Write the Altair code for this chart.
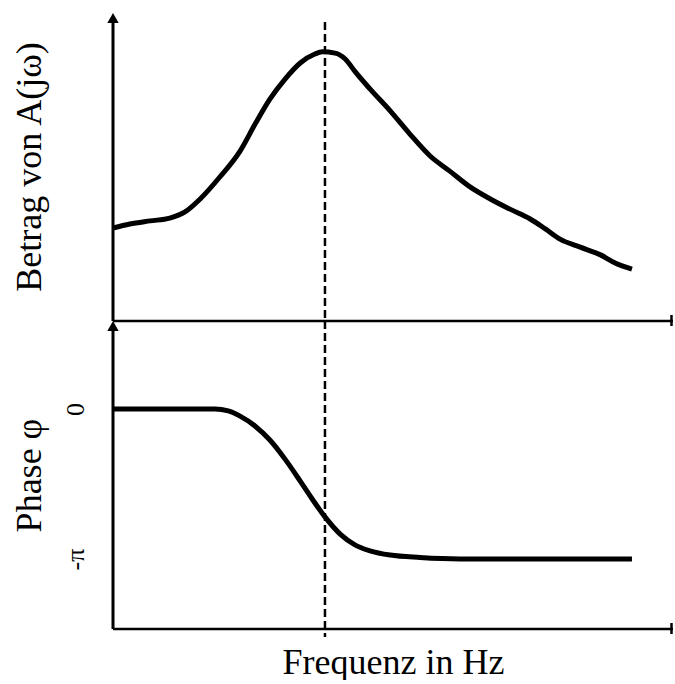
import altair as alt
import pandas as pd

# ---------------- data ----------------
freq_mag = [0, 3.0, 6.6, 10.1, 12.8, 15.5, 19.0, 22.6, 25.3, 27.9, 30.6, 33.3, 35.9, 37.2,
            39.5, 41.3, 43.1, 45.7, 49.3, 52.8, 56.4, 59.9, 63.5, 67.1, 70.6, 74.2, 76.9,
            79.5, 83.1, 86.7, 89.3, 92.3]
magnitude = [3.01, 3.14, 3.24, 3.33, 3.53, 3.95, 4.66, 5.50, 6.38, 7.18, 7.83, 8.35, 8.64, 8.71,
             8.67, 8.48, 8.06, 7.51, 6.80, 6.05, 5.34, 4.85, 4.34, 3.95, 3.62, 3.30, 2.98,
             2.65, 2.39, 2.14, 1.88, 1.68]

freq_phase = [0, 18.1, 20.5, 22.6, 25.3, 27.9, 30.6, 33.3, 35.4, 37.7, 40.4, 43.1, 45.7,
              49.3, 54.6, 61.7, 92.3]
phase = [0, 0, -0.04, -0.15, -0.36, -0.65, -1.05, -1.51, -1.88, -2.26, -2.62, -2.85, -2.97,
         -3.06, -3.11, -3.14, -3.14]

resonance_freq = [37.7]
phase_tick_values = [0, -3.14159]
phase_tick_labels = ["0", "-π"]

# ---------------- layout / style ----------------
W = 560
H1 = 309
H2 = 308
FONT = "Liberation Serif"
TITLE_SIZE = 36
LABEL_SIZE = 26

mag_df = pd.DataFrame({"f": freq_mag, "a": magnitude})
ph_df = pd.DataFrame({"f": freq_phase, "p": phase})
res_df = pd.DataFrame({"f": resonance_freq})
one = pd.DataFrame({"k": [0]})

x_scale = alt.Scale(domain=[0, 99.6], nice=False, zero=False)
y_mag = alt.Scale(domain=[0, 10], nice=False, zero=False)
y_ph = alt.Scale(domain=[-4.608, 1.843], nice=False, zero=False)

label_expr = "datum.value == 0 ? '" + phase_tick_labels[0] + "' : '" + phase_tick_labels[1] + "'"

# ---------- top panel ----------
top_curve = alt.Chart(mag_df).mark_line(color="black", strokeWidth=5, interpolate="monotone").encode(
    x=alt.X("f:Q", scale=x_scale, axis=None),
    y=alt.Y("a:Q", scale=y_mag,
            axis=alt.Axis(title="Betrag von A(jω)", labels=False, ticks=False, domain=False,
                          grid=False, titleFont=FONT, titleFontSize=TITLE_SIZE,
                          titleFontWeight="normal", titleColor="black", titlePadding=65)),
)
top_dash = alt.Chart(res_df).mark_rule(color="black", strokeWidth=2.5, strokeDash=[8, 4]).encode(
    x=alt.X("f:Q", scale=x_scale, axis=None), y=alt.value(10), y2=alt.value(H1))
top_vaxis = alt.Chart(one).mark_rule(color="black", strokeWidth=3).encode(
    x=alt.value(0), y=alt.value(8), y2=alt.value(H1))
top_haxis = alt.Chart(one).mark_rule(color="black", strokeWidth=2.5).encode(
    x=alt.value(0), x2=alt.value(W), y=alt.value(H1))
top_tick = alt.Chart(one).mark_rule(color="black", strokeWidth=2.5).encode(
    x=alt.value(W - 1.5), y=alt.value(H1 - 6), y2=alt.value(H1 + 5))
top_arrow = alt.Chart(one).mark_point(shape="triangle-up", filled=True, color="black", opacity=1,
                                      size=130).encode(x=alt.value(0), y=alt.value(6))

top = alt.layer(top_dash, top_curve, top_vaxis, top_haxis, top_tick, top_arrow).properties(
    width=W, height=H1)

# ---------- bottom panel ----------
bot_curve = alt.Chart(ph_df).mark_line(color="black", strokeWidth=5, interpolate="monotone").encode(
    x=alt.X("f:Q", scale=x_scale,
            axis=alt.Axis(title="Frequenz in Hz", labels=False, ticks=False, domain=False,
                          grid=False, titleFont=FONT, titleFontSize=TITLE_SIZE,
                          titleFontWeight="normal", titleColor="black", titlePadding=16)),
    y=alt.Y("p:Q", scale=y_ph,
            axis=alt.Axis(title="Phase φ", values=phase_tick_values, labelExpr=label_expr,
                          labelAngle=270, labelFont=FONT, labelFontSize=LABEL_SIZE,
                          labelColor="black", labelPadding=25, ticks=False, domain=False,
                          grid=False, titleFont=FONT, titleFontSize=TITLE_SIZE,
                          titleFontWeight="normal", titleColor="black", titlePadding=14)),
)
bot_dash = alt.Chart(res_df).mark_rule(color="black", strokeWidth=2.5, strokeDash=[8, 4]).encode(
    x=alt.X("f:Q", scale=x_scale), y=alt.value(0), y2=alt.value(H2 + 8))
bot_vaxis = alt.Chart(one).mark_rule(color="black", strokeWidth=3).encode(
    x=alt.value(0), y=alt.value(6), y2=alt.value(H2))
bot_haxis = alt.Chart(one).mark_rule(color="black", strokeWidth=2.5).encode(
    x=alt.value(0), x2=alt.value(W), y=alt.value(H2))
bot_tick = alt.Chart(one).mark_rule(color="black", strokeWidth=2.5).encode(
    x=alt.value(W - 1.5), y=alt.value(H2 - 6), y2=alt.value(H2 + 5))
bot_arrow = alt.Chart(one).mark_point(shape="triangle-up", filled=True, color="black", opacity=1,
                                      size=130).encode(x=alt.value(0), y=alt.value(5))

bottom = alt.layer(bot_curve, bot_dash, bot_vaxis, bot_haxis, bot_tick, bot_arrow).properties(
    width=W, height=H2)

chart = alt.vconcat(top, bottom, spacing=0, bounds="flush").properties(
    padding={"left": 10, "top": 12, "right": 0, "bottom": 0},
    background="white",
).configure_view(stroke=None)

chart.save("out.html", embed_options={"renderer": "svg", "actions": False})
